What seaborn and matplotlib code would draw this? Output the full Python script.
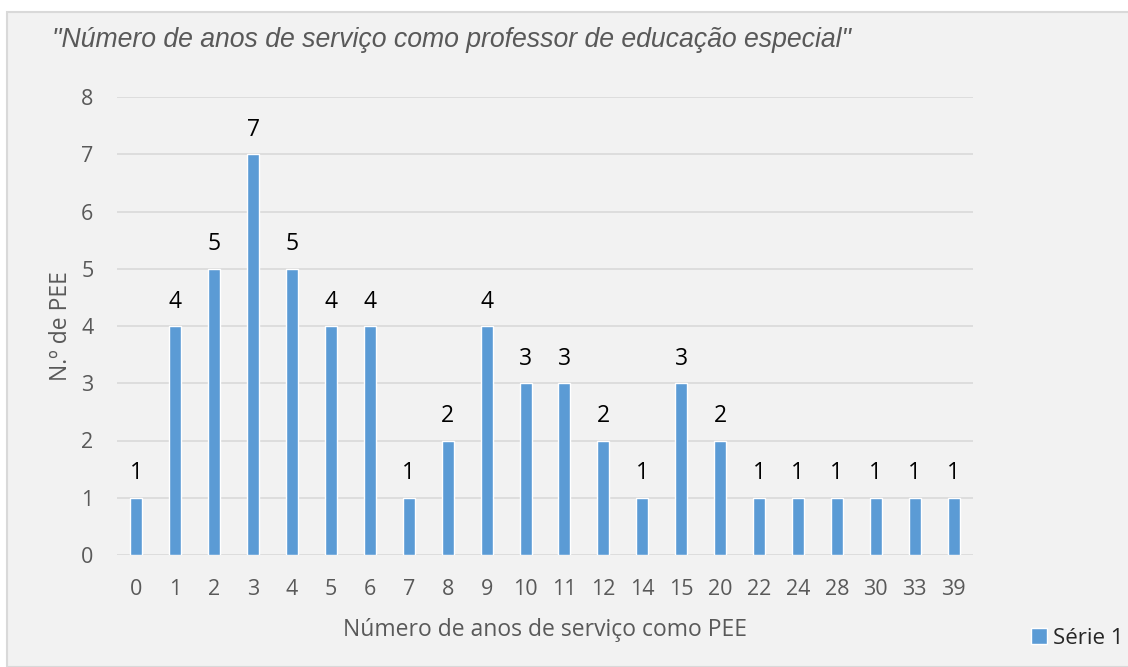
import matplotlib
matplotlib.use('Agg')
import matplotlib.pyplot as plt
from matplotlib.patches import Rectangle
import seaborn as sns
import pandas as pd

anos = ["0", "1", "2", "3", "4", "5", "6", "7", "8", "9", "10", "11", "12",
        "14", "15", "20", "22", "24", "28", "30", "33", "39"]
n_pee = [1, 4, 5, 7, 5, 4, 4, 1, 2, 4, 3, 3, 2, 1, 3, 2, 1, 1, 1, 1, 1, 1]
y_ticks = [0, 1, 2, 3, 4, 5, 6, 7, 8]

df = pd.DataFrame({"anos": anos, "n": n_pee})

sns.set_theme(style="white")
plt.rcParams['font.family'] = ['Open Sans', 'DejaVu Sans']

W, H = 1128, 667
fig = plt.figure(figsize=(W / 100, H / 100), dpi=100, facecolor="white")
# light grey chart area with thin border
fig.patches.append(Rectangle((7 / W, 0), 1.1, 1 - 12 / H, transform=fig.transFigure,
                             facecolor="#f2f2f2", edgecolor="#d9d9d9", linewidth=1.5,
                             zorder=-5))

ax = fig.add_axes([117 / W, 1 - 555 / H, (973 - 117) / W, (555 - 97) / H])
ax.set_zorder(2)
ax.set_facecolor("none")

sns.barplot(data=df, x="anos", y="n", order=anos, color="#5b9bd5", width=0.31,
            saturation=1, ax=ax, label="Série 1", zorder=3)

ax.set_ylim(0, 8)
ax.set_yticks(y_ticks)
ax.set_xlim(-0.5, len(anos) - 0.5)
ax.grid(axis="y", color="#d9d9d9", linewidth=1.2, zorder=0)
ax.grid(axis="x", visible=False)
for s in ax.spines.values():
    s.set_visible(False)
ax.tick_params(axis="both", length=0, labelsize=15.5, labelcolor="#595959")
ax.tick_params(axis="x", pad=17)
ax.tick_params(axis="y", pad=17)

for c in ax.containers:
    ax.bar_label(c, padding=9, fontsize=16.5, color="black")

ax.set_xlabel("Número de anos de serviço como PEE", fontsize=16.5, color="#595959", labelpad=13)
ax.set_ylabel("N.º de PEE", fontsize=16.5, color="#595959", labelpad=6)

fig.text(52 / W, 1 - 40 / H, '"Número de anos de serviço como professor de educação especial"',
         fontsize=19.2, style="italic", color="#595959", family="Liberation Sans",
         ha="left", va="center")

ax.legend(loc="center left", bbox_to_anchor=(1031 / W, 1 - 638 / H),
          bbox_transform=fig.transFigure, frameon=False, fontsize=16,
          handlelength=0.7, handleheight=0.7, handletextpad=0.3, borderpad=0,
          borderaxespad=0)

fig.savefig("out.png", dpi=100, facecolor="white")
